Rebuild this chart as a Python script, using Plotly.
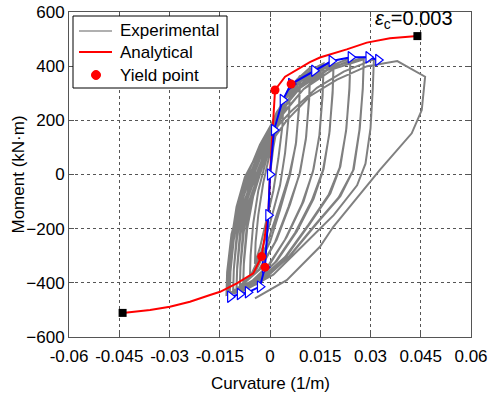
import plotly.graph_objects as go

# Experimental hysteresis (continuous trace)
exp_phi = [
    0.0, 0.001, 0.0025, 0.004,
    0.0037, 0.0025, 0.001, -0.001, -0.003, -0.0045,
    -0.0043, -0.0035, -0.002, 0.0, 0.002, 0.004, 0.006,
    0.0057, 0.0045, 0.003, 0.0, -0.003, -0.006,
    -0.0058, -0.005, -0.0035, -0.001, 0.002, 0.005, 0.009,
    0.0087, 0.0078, 0.006, 0.003, 0.0, -0.004, -0.008,
    -0.0078, -0.0068, -0.005, -0.002, 0.002, 0.006, 0.009,
    0.0087, 0.0077, 0.0058, 0.0025, -0.001, -0.005, -0.008,
    -0.0078, -0.007, -0.0055, -0.003, 0.0, 0.004, 0.008, 0.012,
    0.0117, 0.0108, 0.009, 0.006, 0.002, -0.003, -0.009,
    -0.0088, -0.0078, -0.006, -0.0025, 0.001, 0.005, 0.009, 0.012,
    0.0117, 0.0107, 0.0088, 0.0055, 0.0015, -0.0035, -0.009,
    -0.0088, -0.008, -0.0065, -0.004, -0.001, 0.003, 0.008, 0.012, 0.016,
    0.0157, 0.0148, 0.013, 0.010, 0.005, 0.0, -0.005, -0.010,
    -0.0098, -0.0088, -0.007, -0.0035, 0.0, 0.004, 0.009, 0.013, 0.016,
    0.0157, 0.0147, 0.0128, 0.0095, 0.0045, -0.0005, -0.0055, -0.010,
    -0.0098, -0.009, -0.0075, -0.005, -0.002, 0.002, 0.007, 0.013, 0.019,
    0.0187, 0.0178, 0.016, 0.013, 0.008, 0.002, -0.004, -0.011,
    -0.0108, -0.0098, -0.008, -0.0045, -0.001, 0.003, 0.008, 0.014, 0.019,
    0.0187, 0.0177, 0.0158, 0.0125, 0.0075, 0.0015, -0.0045, -0.011,
    -0.0108, -0.010, -0.0085, -0.006, -0.002, 0.003, 0.009, 0.016, 0.024,
    0.0237, 0.0228, 0.021, 0.018, 0.012, 0.005, -0.003, -0.012,
    -0.0118, -0.0108, -0.009, -0.0055, -0.001, 0.004, 0.010, 0.017, 0.024,
    0.0237, 0.0227, 0.0208, 0.0175, 0.0115, 0.0045, -0.0035, -0.012,
    -0.0118, -0.011, -0.0095, -0.007, -0.003, 0.002, 0.009, 0.018, 0.028,
    0.0277, 0.0268, 0.025, 0.021, 0.014, 0.006, -0.003, -0.0125,
    -0.0123, -0.0113, -0.0098, -0.0065, -0.002, 0.003, 0.010, 0.019, 0.028,
    0.0277, 0.0267, 0.0248, 0.0205, 0.0135, 0.0055, -0.0035, -0.0125,
    -0.0123, -0.0115, -0.010, -0.0075, -0.002, 0.006, 0.014, 0.022, 0.031,
    0.0307, 0.030, 0.0285, 0.026, 0.019, 0.010, 0.001, -0.008, -0.013,
    -0.0128, -0.0115, -0.008, -0.002, 0.005, 0.012, 0.020, 0.029, 0.038,
    0.0463, 0.0453, 0.0423, 0.0328, 0.0189, 0.0149, 0.009, 0.005, -0.0045,
]
exp_moment = [
    0, 100, 200, 265,
    180, 60, -60, -170, -270, -330,
    -250, -150, -30, 80, 190, 270, 330,
    230, 80, -40, -180, -300, -380,
    -300, -180, -60, 60, 190, 290, 365,
    260, 120, 0, -130, -250, -350, -405,
    -330, -200, -80, 40, 170, 290, 355,
    250, 110, 0, -130, -260, -360, -400,
    -320, -200, -80, 30, 150, 270, 350, 395,
    290, 140, 10, -110, -240, -350, -415,
    -340, -210, -90, 30, 150, 265, 345, 385,
    280, 130, 0, -120, -250, -355, -410,
    -330, -200, -80, 30, 140, 250, 340, 385, 410,
    300, 150, 20, -100, -230, -330, -390, -425,
    -350, -220, -100, 20, 130, 240, 330, 380, 400,
    290, 140, 10, -110, -240, -335, -395, -420,
    -340, -220, -100, 10, 120, 230, 320, 385, 420,
    310, 160, 20, -90, -210, -320, -390, -430,
    -350, -230, -110, 10, 120, 225, 315, 380, 412,
    300, 150, 15, -95, -215, -325, -392, -428,
    -350, -230, -110, 0, 120, 230, 320, 390, 430,
    320, 170, 30, -70, -180, -300, -390, -440,
    -360, -240, -120, 0, 115, 225, 315, 385, 422,
    310, 160, 25, -75, -185, -305, -392, -437,
    -360, -240, -120, -10, 110, 220, 320, 395, 432,
    320, 170, 20, -80, -180, -300, -400, -445,
    -365, -245, -125, -10, 105, 215, 315, 390, 425,
    315, 165, 15, -85, -185, -305, -402, -443,
    -360, -240, -120, -10, 120, 230, 320, 380, 425,
    320, 170, 40, -40, -150, -260, -370, -430, -445,
    -360, -220, -60, 80, 200, 290, 350, 400, 419,
    361, 238, 152, 17, -193, -267, -340, -390, -457,
]

# Analytical moment-curvature curve
ana_phi = [-0.044, -0.0358, -0.0299, -0.0239, -0.0179, -0.0149, -0.0099, -0.005,
           -0.0025, -0.0015, -0.0005, 0.0, 0.0005, 0.001, 0.0015, 0.0045,
           0.009, 0.0119, 0.0149, 0.0199, 0.0229, 0.0289, 0.0358, 0.044]
ana_moment = [-511, -500, -488, -470, -445, -433, -402, -365,
              -303, -230, -143, 0, 110, 220, 312, 361,
              392, 415, 432, 450, 462, 487, 503, 511]

# Backbone envelope of experiment (blue with triangles)
env_phi = [-0.0119, -0.009, -0.0066, -0.003, -0.0015, -0.0005, 0.0, 0.0012,
           0.0038, 0.0063, 0.0132, 0.0184, 0.0241, 0.0294, 0.0323]
env_moment = [-451, -441, -435, -414, -342, -150, 0, 164,
              275, 334, 383, 419, 433, 433, 423]

# Yield points
yield_phi = [0.0015, 0.0063, -0.0025, -0.0015]
yield_moment = [312, 334, -303, -342]

# Ultimate points (eps_c = 0.003)
ult_phi = [-0.044, 0.044]
ult_moment = [-511, 511]

x_ticks = [-0.06, -0.045, -0.03, -0.015, 0, 0.015, 0.03, 0.045, 0.06]
x_tick_text = ["-0.06", "-0.045", "-0.03", "-0.015", "0", "0.015", "0.03", "0.045", "0.06"]
y_ticks = [-600, -400, -200, 0, 200, 400, 600]
legend_labels = ["Experimental", "Analytical", "Yield point"]

FONT = "Liberation Sans, Arial, Helvetica, sans-serif"
W, H = 495, 397
ML, MR, MT, MB = 69, 24, 12, 60
PW, PH = W - ML - MR, H - MT - MB


def px(x):
    return (x - ML) / PW


def py(y):
    return (H - MB - y) / PH


fig = go.Figure()
fig.add_trace(go.Scatter(x=exp_phi, y=exp_moment, mode="lines",
                         line=dict(color="#808080", width=2), name=legend_labels[0],
                         showlegend=False))
fig.add_trace(go.Scatter(x=ana_phi, y=ana_moment, mode="lines",
                         line=dict(color="#ff0000", width=2), name=legend_labels[1],
                         showlegend=False))
fig.add_trace(go.Scatter(x=env_phi, y=env_moment, mode="lines+markers",
                         line=dict(color="#0000ff", width=2),
                         marker=dict(symbol="triangle-right", size=10, color="white",
                                     line=dict(color="#0000ff", width=1.2)),
                         showlegend=False))
fig.add_trace(go.Scatter(x=yield_phi, y=yield_moment, mode="markers",
                         marker=dict(symbol="circle", size=9, color="#ff0000"),
                         name=legend_labels[2], showlegend=False))
fig.add_trace(go.Scatter(x=ult_phi, y=ult_moment, mode="markers",
                         marker=dict(symbol="square", size=8, color="black"),
                         showlegend=False))

fig.add_annotation(x=0.044, y=511, xref="x", yref="y",
                   text="<i>ε</i><sub>c</sub>=0.003", showarrow=False,
                   xanchor="center", yanchor="bottom", xshift=-3, yshift=2,
                   font=dict(size=20, color="black", family=FONT))

# Legend box (drawn manually to match the compact layout)
fig.add_shape(type="rect", xref="paper", yref="paper",
              x0=px(73), x1=px(227), y0=py(88), y1=py(16),
              line=dict(color="black", width=1), fillcolor="white", layer="above")
legend_rows = [31, 52, 75]
fig.add_shape(type="line", xref="paper", yref="paper",
              x0=px(79), x1=px(112), y0=py(legend_rows[0]), y1=py(legend_rows[0]),
              line=dict(color="#b0b0b0", width=2), layer="above")
fig.add_shape(type="line", xref="paper", yref="paper",
              x0=px(79), x1=px(112), y0=py(legend_rows[1]), y1=py(legend_rows[1]),
              line=dict(color="#ff0000", width=2), layer="above")
fig.add_shape(type="circle", xref="paper", yref="paper",
              x0=px(91.5), x1=px(100.5), y0=py(legend_rows[2] + 4.5), y1=py(legend_rows[2] - 4.5),
              line=dict(color="#ff0000", width=1), fillcolor="#ff0000", layer="above")
for lab, row in zip(legend_labels, legend_rows):
    fig.add_annotation(x=px(118), y=py(row), xref="paper", yref="paper",
                       text=lab, showarrow=False, xanchor="left", yanchor="middle",
                       font=dict(size=17, color="black", family=FONT))

# Axis titles
fig.add_annotation(x=0.5, y=py(383), xref="paper", yref="paper",
                   text="Curvature (1/m)", showarrow=False,
                   xanchor="center", yanchor="middle",
                   font=dict(size=17, color="black", family=FONT))
fig.add_annotation(x=px(18), y=0.5, xref="paper", yref="paper",
                   text="Moment (kN·m)", showarrow=False, textangle=-90,
                   xanchor="center", yanchor="middle",
                   font=dict(size=17, color="black", family=FONT))

axis_common = dict(showline=True, linecolor="#555555", linewidth=1, mirror="ticks",
                   ticks="inside", ticklen=5, tickcolor="#555555",
                   showgrid=True, gridcolor="#555555", griddash="dot", gridwidth=1,
                   zeroline=False, automargin=False,
                   tickfont=dict(size=17, color="black", family=FONT))

fig.update_layout(
    width=W, height=H,
    margin=dict(l=ML, r=MR, t=MT, b=MB, autoexpand=False),
    paper_bgcolor="white", plot_bgcolor="white",
    font=dict(family=FONT, size=17, color="black"),
    xaxis=dict(range=[-0.06, 0.06], tickvals=x_ticks, ticktext=x_tick_text,
               ticklabelstandoff=4, **axis_common),
    yaxis=dict(range=[-600, 600], tickvals=y_ticks, **axis_common),
    showlegend=False,
)

fig.write_html("out.html")
